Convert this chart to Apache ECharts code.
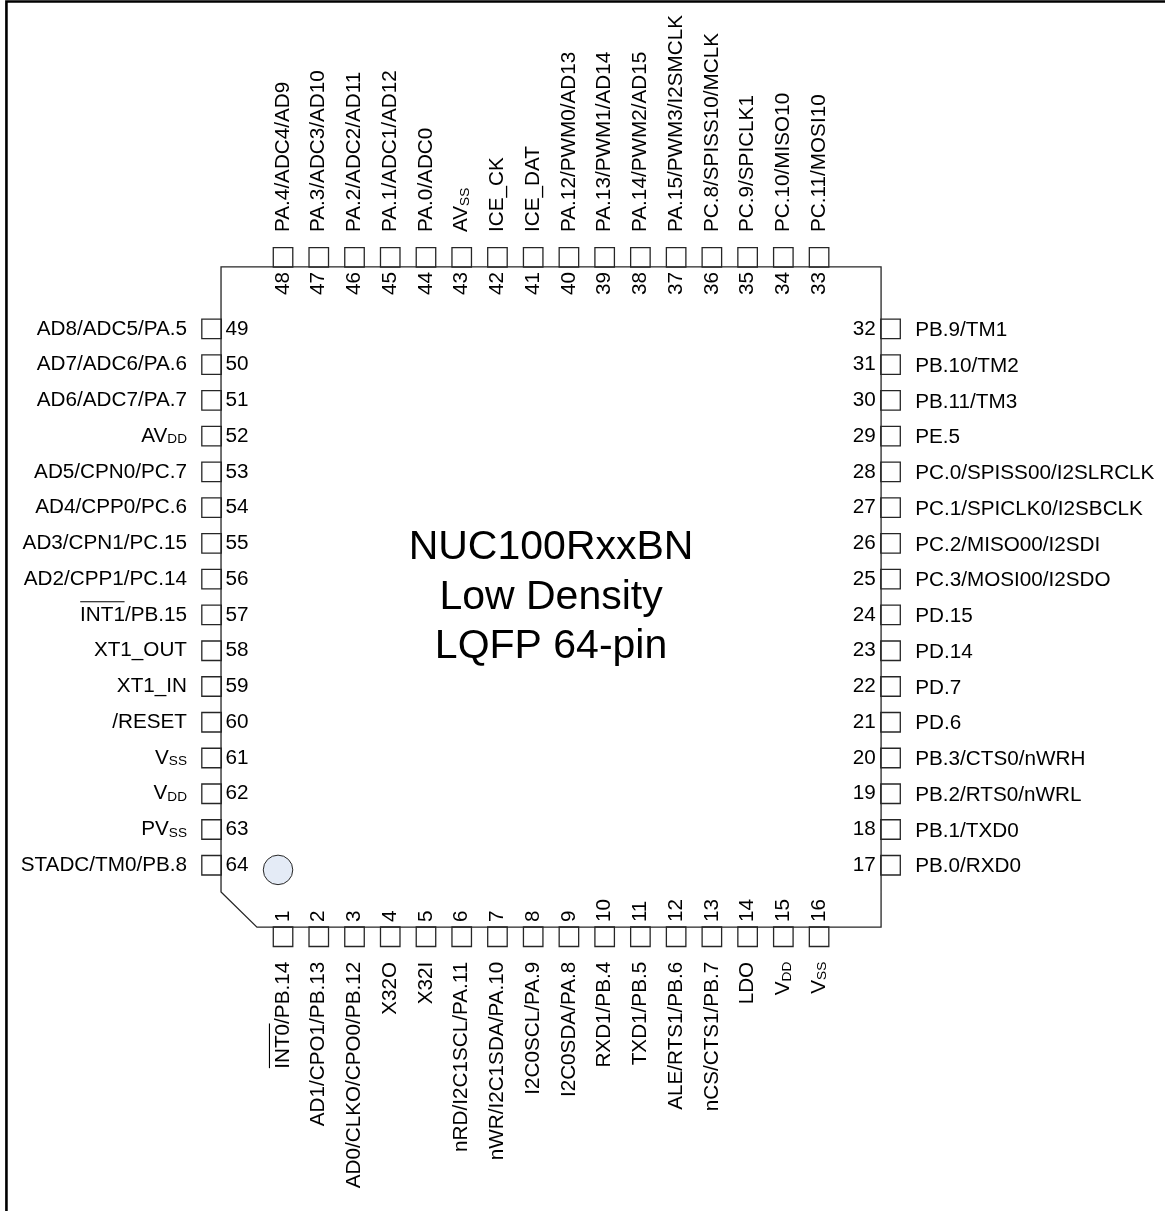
<!DOCTYPE html>
<html><head><meta charset="utf-8">
<style>html,body{margin:0;padding:0;background:#fff}#c{width:1165px;height:1211px}</style>
<script src="https://cdn.jsdelivr.net/npm/echarts@6/dist/echarts.min.js"></script>
</head><body><div id="c"></div>
<script>
// Pin names, one list per package side, in pin-number order. "~" starts a subscript.
const bottomPins = ['INT0/PB.14','AD1/CPO1/PB.13','AD0/CLKO/CPO0/PB.12','X32O','X32I','nRD/I2C1SCL/PA.11','nWR/I2C1SDA/PA.10','I2C0SCL/PA.9','I2C0SDA/PA.8','RXD1/PB.4','TXD1/PB.5','ALE/RTS1/PB.6','nCS/CTS1/PB.7','LDO','V~DD','V~SS'];
const rightPins = ['PB.0/RXD0','PB.1/TXD0','PB.2/RTS0/nWRL','PB.3/CTS0/nWRH','PD.6','PD.7','PD.14','PD.15','PC.3/MOSI00/I2SDO','PC.2/MISO00/I2SDI','PC.1/SPICLK0/I2SBCLK','PC.0/SPISS00/I2SLRCLK','PE.5','PB.11/TM3','PB.10/TM2','PB.9/TM1'];
const topPins = ['PC.11/MOSI10','PC.10/MISO10','PC.9/SPICLK1','PC.8/SPISS10/MCLK','PA.15/PWM3/I2SMCLK','PA.14/PWM2/AD15','PA.13/PWM1/AD14','PA.12/PWM0/AD13','ICE_DAT','ICE_CK','AV~SS','PA.0/ADC0','PA.1/ADC1/AD12','PA.2/ADC2/AD11','PA.3/ADC3/AD10','PA.4/ADC4/AD9'];
const leftPins = ['AD8/ADC5/PA.5','AD7/ADC6/PA.6','AD6/ADC7/PA.7','AV~DD','AD5/CPN0/PC.7','AD4/CPP0/PC.6','AD3/CPN1/PC.15','AD2/CPP1/PC.14','INT1/PB.15','XT1_OUT','XT1_IN','/RESET','V~SS','V~DD','PV~SS','STADC/TM0/PB.8'];
const titleLines = ['NUC100RxxBN','Low Density','LQFP 64-pin'];

// Diagram units: one unit = one pin pitch; pins occupy slots 1..16 on each side.
const packageOutline = [[-0.735,-0.735],[17.735,-0.735],[17.735,17.73],[0.27,17.73],[-0.735,16.75],[-0.735,-0.735]];
const frameOutline = [[-6.74,26],[-6.74,-8.16],[26,-8.16]];
const overbarLeft = [[-4.66,8.63],[-3.45,8.63]];
const overbarBottom = [[0.62,20.44],[0.62,21.66]];
const pin1Marker = [[0.86,16.13]];
const titleCentre = [[8.5,8.51]];

const FONT = '"Liberation Sans", Arial, sans-serif';
const INK = '#000000', EDGE = '#262626';
const NAME = 20.7, SUB = 13.6;

const pinData = [
  ...bottomPins.map((n,i)=>[i+1,18]),
  ...rightPins.map((n,i)=>[18,16-i]),
  ...topPins.map((n,i)=>[16-i,-1]),
  ...leftPins.map((n,i)=>[-1,i+1])
];
const richName = n => {
  const k = n.indexOf('~');
  return k < 0 ? '{m|'+n+'}' : '{m|'+n.slice(0,k)+'}{s|'+n.slice(k+1)+'}';
};
const rich = {
  m:{fontFamily:FONT,fontSize:NAME,color:INK},
  s:{fontFamily:FONT,fontSize:SUB,color:INK,verticalAlign:'bottom',lineHeight:13,padding:[5,0,0,0]}
};
function textSeries(id, points, label){
  return {id,type:'scatter',symbolSize:0,silent:true,z:5,clip:false,
    itemStyle:{opacity:1},
    data:points.map(p=>({name:p.t,value:p.v})),
    label:Object.assign({show:true,position:'inside',fontFamily:FONT,fontSize:NAME,color:INK,
      formatter:q=>richName(q.name),rich},label)};
}
const nameLabel = (arr,fn)=>arr.map((t,i)=>({t,v:fn(i)}));
const numLabel = (arr,first,fn)=>arr.map((t,i)=>({t:String(first+i),v:fn(i)}));

const lineSeries = (id,data,w,color)=>({id,type:'line',data,symbol:'none',silent:true,z:4,clip:false,
  lineStyle:{width:w,color,cap:'square',join:'miter',opacity:1},animation:false});

const option = {
  animation:false,
  backgroundColor:'#ffffff',
  grid:{left:0,right:0,top:0,bottom:0,containLabel:false},
  xAxis:{type:'value',min:-6.92,max:25.68,show:false},
  yAxis:{type:'value',min:-8.2,max:25.67,inverse:true,show:false},
  tooltip:{show:false},
  series:[
    lineSeries('frame',frameOutline,2.6,'#000000'),
    {id:'pins',type:'scatter',symbol:'rect',symbolSize:19.5,silent:true,z:3,data:pinData,
      itemStyle:{color:'#ffffff',borderColor:EDGE,borderWidth:1.3,opacity:1}},
    lineSeries('package',packageOutline,1.3,EDGE),
    lineSeries('overbarLeft',overbarLeft,1.1,INK),
    lineSeries('overbarBottom',overbarBottom,1.1,INK),
    {id:'pin1',type:'scatter',symbol:'circle',symbolSize:29.5,silent:true,z:3,data:pin1Marker,
      itemStyle:{color:'#e4ebf6',borderColor:EDGE,borderWidth:1,opacity:1}},
    textSeries('namesLeft',nameLabel(leftPins,i=>[-1.687,i+1]),{align:'right',verticalAlign:'middle'}),
    textSeries('numsLeft',numLabel(leftPins,49,i=>[-0.609,i+1]),{align:'left',verticalAlign:'middle'}),
    textSeries('namesRight',nameLabel(rightPins,i=>[18.69,16-i+0.04]),{align:'left',verticalAlign:'middle'}),
    textSeries('numsRight',numLabel(rightPins,17,i=>[17.585,16-i]),{align:'right',verticalAlign:'middle'}),
    textSeries('namesTop',nameLabel(topPins,i=>[16-i,-1.713]),{rotate:90,align:'left',verticalAlign:'middle'}),
    textSeries('numsTop',numLabel(topPins,33,i=>[16-i,0.05]),{rotate:90,align:'left',verticalAlign:'middle'}),
    textSeries('namesBottom',nameLabel(bottomPins,i=>[i+1,18.7]),{rotate:90,align:'right',verticalAlign:'middle'}),
    textSeries('numsBottom',numLabel(bottomPins,1,i=>[i+1,17.59]),{rotate:90,align:'left',verticalAlign:'middle'}),
    {id:'title',type:'scatter',symbolSize:0,silent:true,z:5,itemStyle:{opacity:1},data:[{name:titleLines.join('\n'),value:titleCentre[0]}],
      label:{show:true,position:'inside',formatter:q=>q.name,fontFamily:FONT,fontSize:41,lineHeight:49.7,color:'#000000',align:'center',verticalAlign:'middle'}}
  ]
};
const chart = echarts.init(document.getElementById('c'),null,{renderer:'canvas'});
chart.setOption(option);
</script></body></html>
